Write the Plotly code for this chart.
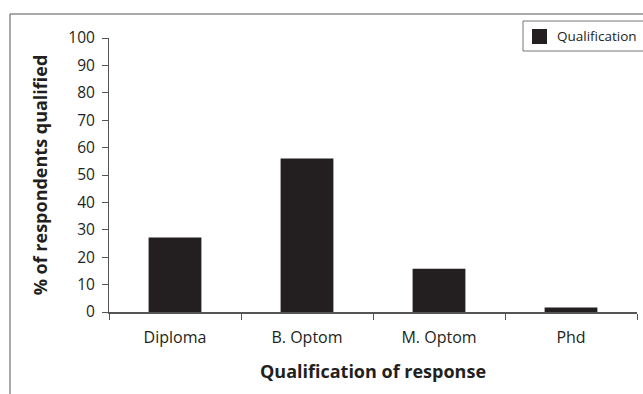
import plotly.graph_objects as go

categories = ["Diploma", "B. Optom", "M. Optom", "Phd"]
values = [27.2, 56.0, 15.8, 1.6]
series_name = "Qualification"
y_ticks = [0, 10, 20, 30, 40, 50, 60, 70, 80, 90, 100]

TXT = "#231f20"
BAR = "#231f20"
FONT = "Open Sans"

fig = go.Figure()
fig.add_trace(go.Bar(
    x=categories, y=values, name=series_name,
    marker=dict(color=BAR, line=dict(width=0)),
    showlegend=False,
))

# plot area geometry (pixels) used to place the hand-drawn legend/frame
L, R, T, B = 109, 637, 38, 312
W, H = R - L, B - T
def px(x):
    return (x - L) / W
def py(y):
    return (B - y) / H

fig.update_layout(
    width=643, height=394,
    margin=dict(l=L, r=643 - R, t=T, b=394 - B),
    paper_bgcolor="white", plot_bgcolor="white",
    bargap=0.6,
    font=dict(family=FONT, color=TXT, size=15),
    showlegend=False,
    xaxis=dict(
        type="category",
        tickson="boundaries",
        ticks="outside", ticklen=6, tickcolor="#555555", tickwidth=1,
        showline=True, linecolor="#555555", linewidth=1.5,
        showgrid=False, zeroline=False,
        ticklabelstandoff=10,
        tickfont=dict(family=FONT, size=16, color=TXT),
        title=dict(text="<b>Qualification of response</b>",
                   font=dict(family=FONT, size=18, color=TXT), standoff=18),
    ),
    yaxis=dict(
        range=[0, 100],
        tickvals=y_ticks,
        ticks="outside", ticklen=6, tickcolor="#555555", tickwidth=1,
        showline=True, linecolor="#555555", linewidth=1,
        showgrid=False, zeroline=False,
        ticklabelstandoff=4,
        tickfont=dict(family=FONT, size=15.5, color=TXT),
        title=dict(text="<b>% of respondents qualified</b>",
                   font=dict(family=FONT, size=18, color=TXT), standoff=16),
    ),
    shapes=[
        # outer frame (top and left edges)
        dict(type="line", xref="paper", yref="paper",
             x0=px(10), x1=px(700), y0=py(14), y1=py(14),
             line=dict(color="#555555", width=1)),
        dict(type="line", xref="paper", yref="paper",
             x0=px(10), x1=px(10), y0=py(14), y1=py(450),
             line=dict(color="#555555", width=1)),
        # legend box
        dict(type="rect", xref="paper", yref="paper",
             x0=px(523), x1=px(700), y0=py(51), y1=py(21),
             line=dict(color="#777777", width=1), fillcolor="white"),
        # legend swatch
        dict(type="rect", xref="paper", yref="paper",
             x0=px(532), x1=px(547), y0=py(44), y1=py(29),
             line=dict(width=0), fillcolor=BAR),
    ],
    annotations=[
        dict(text=series_name, xref="paper", yref="paper",
             x=px(555), y=py(36.5), xanchor="left", yanchor="middle",
             showarrow=False, font=dict(family=FONT, size=13.5, color=TXT)),
    ],
)

fig.write_html("out.html")
